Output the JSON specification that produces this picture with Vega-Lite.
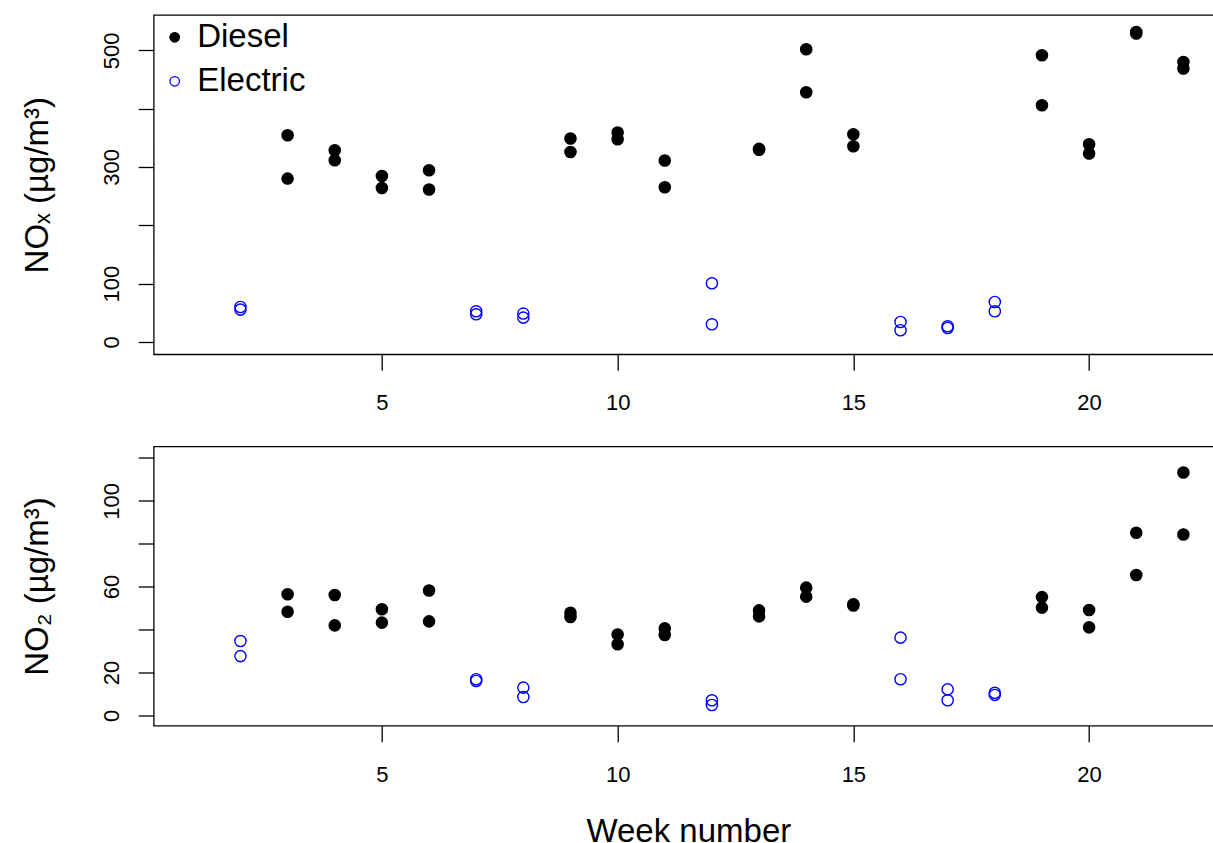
{
  "$schema": "https://vega.github.io/schema/vega-lite/v6.json",
  "padding": {"left": 20.7, "top": 14, "right": -10, "bottom": -6},
  "background": "white",
  "datasets": {
    "nox": [
      {"week": 3, "type": "Diesel", "v": 354.4}, {"week": 3, "type": "Diesel", "v": 280.1},
      {"week": 4, "type": "Diesel", "v": 328.6}, {"week": 4, "type": "Diesel", "v": 311.5},
      {"week": 5, "type": "Diesel", "v": 284.6}, {"week": 5, "type": "Diesel", "v": 264.0},
      {"week": 6, "type": "Diesel", "v": 294.4}, {"week": 6, "type": "Diesel", "v": 261.3},
      {"week": 9, "type": "Diesel", "v": 348.7}, {"week": 9, "type": "Diesel", "v": 325.7},
      {"week": 10, "type": "Diesel", "v": 359.0}, {"week": 10, "type": "Diesel", "v": 347.5},
      {"week": 11, "type": "Diesel", "v": 311.0}, {"week": 11, "type": "Diesel", "v": 265.2},
      {"week": 13, "type": "Diesel", "v": 331.0}, {"week": 13, "type": "Diesel", "v": 329.5},
      {"week": 14, "type": "Diesel", "v": 501.8}, {"week": 14, "type": "Diesel", "v": 428.1},
      {"week": 15, "type": "Diesel", "v": 356.1}, {"week": 15, "type": "Diesel", "v": 335.5},
      {"week": 19, "type": "Diesel", "v": 491.5}, {"week": 19, "type": "Diesel", "v": 405.8},
      {"week": 20, "type": "Diesel", "v": 338.9}, {"week": 20, "type": "Diesel", "v": 323.0},
      {"week": 21, "type": "Diesel", "v": 531.5}, {"week": 21, "type": "Diesel", "v": 528.7},
      {"week": 22, "type": "Diesel", "v": 480.0}, {"week": 22, "type": "Diesel", "v": 468.7},
      {"week": 2, "type": "Electric", "v": 60.0}, {"week": 2, "type": "Electric", "v": 55.5},
      {"week": 7, "type": "Electric", "v": 52.6}, {"week": 7, "type": "Electric", "v": 47.5},
      {"week": 8, "type": "Electric", "v": 48.7}, {"week": 8, "type": "Electric", "v": 41.8},
      {"week": 12, "type": "Electric", "v": 100.6}, {"week": 12, "type": "Electric", "v": 30.3},
      {"week": 16, "type": "Electric", "v": 34.3}, {"week": 16, "type": "Electric", "v": 20.1},
      {"week": 17, "type": "Electric", "v": 26.9}, {"week": 17, "type": "Electric", "v": 24.0},
      {"week": 18, "type": "Electric", "v": 68.6}, {"week": 18, "type": "Electric", "v": 52.6}
    ],
    "no2": [
      {"week": 3, "type": "Diesel", "v": 56.4}, {"week": 3, "type": "Diesel", "v": 48.3},
      {"week": 4, "type": "Diesel", "v": 56.1}, {"week": 4, "type": "Diesel", "v": 41.9},
      {"week": 5, "type": "Diesel", "v": 49.4}, {"week": 5, "type": "Diesel", "v": 43.2},
      {"week": 6, "type": "Diesel", "v": 58.2}, {"week": 6, "type": "Diesel", "v": 43.8},
      {"week": 9, "type": "Diesel", "v": 47.8}, {"week": 9, "type": "Diesel", "v": 45.8},
      {"week": 10, "type": "Diesel", "v": 37.7}, {"week": 10, "type": "Diesel", "v": 33.1},
      {"week": 11, "type": "Diesel", "v": 40.5}, {"week": 11, "type": "Diesel", "v": 37.4},
      {"week": 13, "type": "Diesel", "v": 48.9}, {"week": 13, "type": "Diesel", "v": 46.1},
      {"week": 14, "type": "Diesel", "v": 59.5}, {"week": 14, "type": "Diesel", "v": 55.3},
      {"week": 15, "type": "Diesel", "v": 51.8}, {"week": 15, "type": "Diesel", "v": 51.2},
      {"week": 19, "type": "Diesel", "v": 55.1}, {"week": 19, "type": "Diesel", "v": 50.2},
      {"week": 20, "type": "Diesel", "v": 49.1}, {"week": 20, "type": "Diesel", "v": 41.0},
      {"week": 21, "type": "Diesel", "v": 85.1}, {"week": 21, "type": "Diesel", "v": 65.4},
      {"week": 22, "type": "Diesel", "v": 113.2}, {"week": 22, "type": "Diesel", "v": 84.3},
      {"week": 2, "type": "Electric", "v": 34.6}, {"week": 2, "type": "Electric", "v": 27.6},
      {"week": 7, "type": "Electric", "v": 16.8}, {"week": 7, "type": "Electric", "v": 16.0},
      {"week": 8, "type": "Electric", "v": 12.9}, {"week": 8, "type": "Electric", "v": 8.5},
      {"week": 12, "type": "Electric", "v": 7.0}, {"week": 12, "type": "Electric", "v": 4.8},
      {"week": 16, "type": "Electric", "v": 36.2}, {"week": 16, "type": "Electric", "v": 16.8},
      {"week": 17, "type": "Electric", "v": 12.1}, {"week": 17, "type": "Electric", "v": 7.0},
      {"week": 18, "type": "Electric", "v": 10.5}, {"week": 18, "type": "Electric", "v": 9.5}
    ]
  },
  "spacing": 91.5,
  "bounds": "flush",
  "resolve": {"scale": {"fill": "independent", "stroke": "independent"}, "legend": {"fill": "independent", "stroke": "independent"}},
  "vconcat": [
    {
      "width": 1069.3,
      "height": 339.3,
      "data": {"name": "nox"},
      "mark": {"type": "point", "shape": "circle", "size": 125, "strokeWidth": 1.4, "opacity": 1},
      "encoding": {
        "x": {"field": "week", "type": "quantitative",
              "scale": {"domain": [0.16, 22.84], "nice": false, "zero": false},
              "axis": {"title": null, "values": [5, 10, 15, 20]}},
        "y": {"field": "v", "type": "quantitative",
              "scale": {"domain": [-21.1, 560.5], "nice": false, "zero": false},
              "axis": {"title": "NOₓ (µg/m³)", "values": [0, 100, 200, 300, 400, 500],
                       "labelExpr": "(datum.value == 200 || datum.value == 400) ? '' : datum.label",
                       "titleY": 169.65}},
        "fill": {"field": "type", "type": "nominal",
                 "scale": {"domain": ["Diesel", "Electric"], "range": ["#000000", "transparent"]},
                 "legend": {"title": null, "orient": "none", "legendX": 4.5, "legendY": 5.8}},
        "stroke": {"field": "type", "type": "nominal",
                   "scale": {"domain": ["Diesel", "Electric"], "range": ["#000000", "#0000ff"]},
                   "legend": {"title": null, "orient": "none", "legendX": 4.5, "legendY": 5.8}}
      }
    },
    {
      "width": 1069.3,
      "height": 279.2,
      "data": {"name": "no2"},
      "mark": {"type": "point", "shape": "circle", "size": 125, "strokeWidth": 1.4, "opacity": 1},
      "encoding": {
        "x": {"field": "week", "type": "quantitative",
              "scale": {"domain": [0.16, 22.84], "nice": false, "zero": false},
              "axis": {"title": "Week number", "values": [5, 10, 15, 20],
                       "titleY": 116, "titleBaseline": "alphabetic", "titleFontSize": 33}},
        "y": {"field": "v", "type": "quantitative",
              "scale": {"domain": [-4.85, 125.3], "nice": false, "zero": false},
              "axis": {"title": "NO₂ (µg/m³)", "values": [0, 20, 40, 60, 80, 100, 120],
                       "labelExpr": "(datum.value == 40 || datum.value == 80 || datum.value == 120) ? '' : datum.label",
                       "titleY": 139.6}},
        "fill": {"field": "type", "type": "nominal",
                 "scale": {"domain": ["Diesel", "Electric"], "range": ["#000000", "transparent"]},
                 "legend": null},
        "stroke": {"field": "type", "type": "nominal",
                   "scale": {"domain": ["Diesel", "Electric"], "range": ["#000000", "#0000ff"]},
                   "legend": null}
      }
    }
  ],
  "config": {
    "font": "Liberation Sans",
    "view": {"stroke": "#000000", "strokeWidth": 1.3},
    "axis": {
      "grid": false, "domain": false,
      "tickColor": "#000000", "tickWidth": 1.3,
      "labelFont": "Liberation Sans", "labelFontSize": 22, "labelColor": "#000000",
      "titleFont": "Liberation Sans", "titleFontSize": 33, "titleFontWeight": "normal", "titleColor": "#000000"
    },
    "axisX": {
      "tickSize": 16, "labelPadding": 39.3, "labelBaseline": "alphabetic", "labelAngle": 0,
      "labelAlign": "center", "labelFlush": false, "labelOverlap": false
    },
    "axisY": {
      "tickSize": 15.5, "labelPadding": 19.9, "labelAngle": 270, "labelAlign": "center",
      "labelBaseline": "alphabetic", "labelOverlap": false, "labelFlush": false,
      "titleAngle": 270, "titleBaseline": "alphabetic", "titleAlign": "center", "titleX": -106
    },
    "legend": {
      "padding": 0, "labelFont": "Liberation Sans", "labelFontSize": 33, "labelColor": "#000000",
      "symbolSize": 90, "symbolStrokeWidth": 1.3, "symbolType": "circle",
      "labelOffset": 6, "rowPadding": 10, "labelBaseline": "middle"
    }
  }
}
